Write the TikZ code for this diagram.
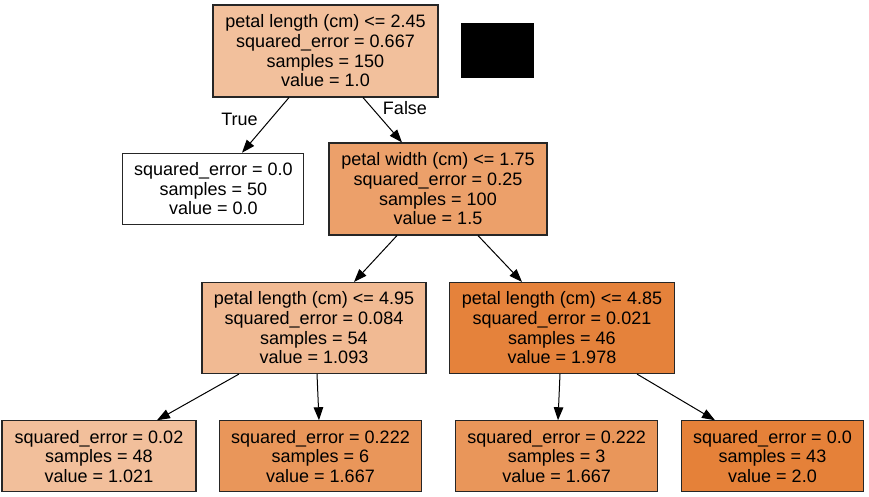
\documentclass[tikz,border=0pt]{standalone}
\usepackage{xcolor}
\usepackage{fontspec}
\setmainfont{Liberation Sans}
\usepackage{tikz}
\usetikzlibrary{arrows.meta, positioning}

\definecolor{valA}{RGB}{242,192,156}
\definecolor{valB}{RGB}{236,160,106}
\definecolor{valC}{RGB}{241,186,147}
\definecolor{valD}{RGB}{229,130,59}
\definecolor{valE}{RGB}{242,191,155}
\definecolor{valF}{RGB}{233,150,90}
\definecolor{valG}{RGB}{229,129,57}

\tikzset{
	treenode/.style={draw=black!85, line width=1.1bp, rectangle, inner sep=0pt, align=center,
		font=\fontsize{18bp}{19.7bp}\selectfont},
	treeedge/.style={-{Triangle[length=13bp, width=9.5bp]}, line width=1bp},
	edgelabel/.style={font=\fontsize{18bp}{20bp}\selectfont, inner sep=0pt},
}

\begin{document}
\begin{tikzpicture}[x=1bp, y=-1bp]
	\useasboundingbox (0,0) rectangle (869,497);

	\node[treenode, fill=valA, minimum width=225bp, minimum height=92bp] (root) at (325.5, 51)
		{petal length (cm) <= 2.45\\squared\_error = 0.667\\samples = 150\\value = 1.0};
	\node[fill=black, minimum width=73bp, minimum height=55bp, inner sep=0pt] (blk) at (497.5, 50.5) {};

	\node[treenode, fill=white, minimum width=181bp, minimum height=71bp] (L) at (213.3, 188.8)
		{squared\_error = 0.0\\samples = 50\\value = 0.0};
	\node[treenode, fill=valB, minimum width=218bp, minimum height=92bp] (R) at (438, 189)
		{petal width (cm) <= 1.75\\squared\_error = 0.25\\samples = 100\\value = 1.5};

	\node[treenode, fill=valC, minimum width=224bp, minimum height=91bp] (RL) at (314, 328)
		{petal length (cm) <= 4.95\\squared\_error = 0.084\\samples = 54\\value = 1.093};
	\node[treenode, fill=valD, minimum width=225bp, minimum height=91bp] (RR) at (562, 328)
		{petal length (cm) <= 4.85\\squared\_error = 0.021\\samples = 46\\value = 1.978};

	\node[treenode, fill=valE, minimum width=194bp, minimum height=71bp] (RLL) at (99, 456.3)
		{squared\_error = 0.02\\samples = 48\\value = 1.021};
	\node[treenode, fill=valF, minimum width=202bp, minimum height=71bp] (RLR) at (320.5, 456.3)
		{squared\_error = 0.222\\samples = 6\\value = 1.667};
	\node[treenode, fill=valF, minimum width=202bp, minimum height=71bp] (RRL) at (556.7, 456.3)
		{squared\_error = 0.222\\samples = 3\\value = 1.667};
	\node[treenode, fill=valG, minimum width=182bp, minimum height=71bp] (RRR) at (772.5, 456.3)
		{squared\_error = 0.0\\samples = 43\\value = 2.0};

	\draw[treeedge] ([xshift=-36.5bp]root.south) -- ([xshift=28.7bp]L.north);
	\draw[treeedge] ([xshift=37.5bp]root.south) -- ([xshift=-36bp]R.north);

	\draw[treeedge] ([xshift=-41bp]R.south) -- ([xshift=40bp]RL.north);
	\draw[treeedge] ([xshift=40bp]R.south) -- ([xshift=-40bp]RR.north);

	\draw[treeedge] ([xshift=-75bp]RL.south) -- ([xshift=58bp]RLL.north);
	\draw[treeedge] ([xshift=3bp]RL.south) -- ([xshift=-1.5bp]RLR.north);

	\draw[treeedge] ([xshift=-2bp]RR.south) -- ([xshift=1.3bp]RRL.north);
	\draw[treeedge] ([xshift=75bp]RR.south) -- ([xshift=-57.5bp]RRR.north);

	% edge labels
	\node[edgelabel] (tlab) at (239.5, 119.5) {True};
	\node[edgelabel] (flab) at (405, 108.5) {False};
\end{tikzpicture}
\end{document}
